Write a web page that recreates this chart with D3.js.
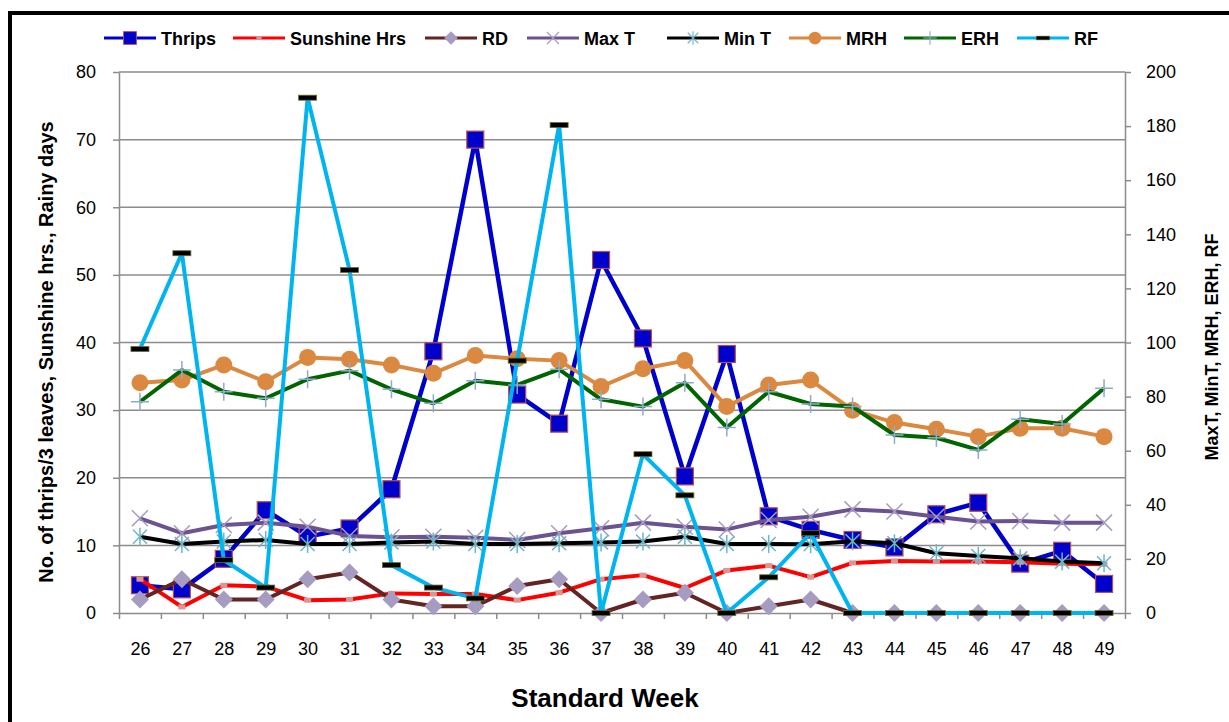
<!DOCTYPE html>
<html>
<head>
<meta charset="utf-8">
<script src="https://cdn.jsdelivr.net/npm/d3@7"></script>
<style>
  body { margin: 0; background: #fff; }
  svg { display: block; font-family: "Liberation Sans", Arial, sans-serif; }
</style>
</head>
<body>
<div id="chart"></div>
<script>
// standard weeks on the x axis
var weeks = [26, 27, 28, 29, 30, 31, 32, 33, 34, 35, 36, 37, 38, 39, 40, 41, 42, 43, 44, 45, 46, 47, 48, 49]

// left axis series
var thrips = [4.1, 3.5, 8, 15.2, 11.3, 12.5, 18.3, 38.7, 70, 32.3, 28, 52.2, 40.6, 20.2, 38.3, 14.3, 12.3, 10.8, 9.7, 14.6, 16.3, 7.3, 9.2, 4.3]
var sunshine = [5.0, 0.9, 4.1, 3.9, 1.9, 2.0, 2.9, 2.8, 2.8, 1.9, 3.0, 5.0, 5.6, 3.7, 6.3, 7.0, 5.3, 7.4, 7.7, 7.6, 7.6, 7.5, 7.3, 7.2]
var rd = [2, 5, 2, 2, 5, 6, 2, 1, 1, 4, 5, 0, 2, 3, 0, 1, 2, 0, 0, 0, 0, 0, 0, 0]

// right axis series
var maxT = [35.0, 29.5, 32.5, 33.4, 31.9, 28.5, 28.0, 28.2, 27.8, 27.0, 29.5, 31.3, 33.4, 31.9, 30.9, 34.4, 35.6, 38.3, 37.5, 35.6, 33.8, 34.0, 33.4, 33.4]
var minT = [28.2, 25.5, 26.4, 27.0, 25.5, 25.5, 26.1, 26.4, 25.5, 25.5, 25.8, 26.1, 26.4, 28.2, 25.5, 25.5, 25.4, 26.5, 25.8, 22.1, 21.1, 20.2, 19.0, 18.4]
var mrh = [85.1, 86.1, 91.7, 85.5, 94.5, 93.8, 91.7, 88.6, 95.2, 94.0, 93.3, 83.7, 90.3, 93.3, 76.3, 84.3, 86.1, 75.0, 70.4, 67.9, 65.2, 68.3, 68.3, 65.2]
var erh = [78.1, 89.8, 81.8, 79.4, 86.4, 89.6, 82.7, 77.5, 85.9, 84.3, 90.1, 79.0, 76.3, 85.1, 68.6, 81.8, 77.3, 76.3, 65.8, 64.8, 60.3, 71.6, 69.9, 83.1]
var rf = [97.6, 133.0, 19.6, 9.4, 190.5, 126.8, 17.7, 9.4, 5.4, 93.3, 180.4, 0, 58.7, 43.5, 0, 13.2, 29.5, 0, 0, 0, 0, 0, 0, 0]

var leftTicks = [0, 10, 20, 30, 40, 50, 60, 70, 80]
var rightTicks = [0, 20, 40, 60, 80, 100, 120, 140, 160, 180, 200]

var W = 1229, H = 722
var plot = { left: 119, right: 1125, top: 72, bottom: 613 }

var svg = d3.select('#chart').append('svg')
  .attr('width', W)
  .attr('height', H)

// outer frame, cut off at the right and bottom like the screenshot
svg.append('rect')
  .attr('x', 10).attr('y', 13)
  .attr('width', W + 20).attr('height', H + 20)
  .attr('fill', 'none')
  .attr('stroke', '#000')
  .attr('stroke-width', 4)

var x = d3.scalePoint().domain(weeks).range([plot.left, plot.right]).padding(0.5)
var xEdge = d3.scaleLinear().domain([0, weeks.length]).range([plot.left, plot.right])
var yL = d3.scaleLinear().domain([0, 80]).range([plot.bottom, plot.top])
var yR = d3.scaleLinear().domain([0, 200]).range([plot.bottom, plot.top])

var grey = '#8c8c8c'

// horizontal grid
svg.append('g')
  .selectAll('line')
  .data(leftTicks.slice(1))
  .enter().append('line')
    .attr('x1', plot.left).attr('x2', plot.right)
    .attr('y1', function(d) { return yL(d) })
    .attr('y2', function(d) { return yL(d) })
    .attr('stroke', grey)
    .attr('stroke-width', 1.5)

function styleAxis(g) {
  g.select('.domain').attr('stroke', grey).attr('stroke-width', 1.5)
  g.selectAll('.tick line').attr('stroke', grey).attr('stroke-width', 1.5)
  g.selectAll('.tick text').attr('fill', '#000')
}

var axL = svg.append('g')
  .attr('transform', 'translate(' + plot.left + ',0)')
  .call(d3.axisLeft(yL).tickValues(leftTicks).tickSize(6).tickPadding(17).tickSizeOuter(0))
axL.call(styleAxis)
axL.selectAll('.tick text').style('font-size', '18px')

var axR = svg.append('g')
  .attr('transform', 'translate(' + plot.right + ',0)')
  .call(d3.axisRight(yR).tickValues(rightTicks).tickSize(6).tickPadding(15).tickSizeOuter(0))
axR.call(styleAxis)
axR.selectAll('.tick text').style('font-size', '18px')

// x axis: ticks at category edges, labels at centres
var axE = svg.append('g')
  .attr('transform', 'translate(0,' + plot.bottom + ')')
  .call(d3.axisBottom(xEdge).ticks(weeks.length).tickSize(6).tickFormat('').tickSizeOuter(0))
axE.call(styleAxis)

var axX = svg.append('g')
  .attr('transform', 'translate(0,' + plot.bottom + ')')
  .call(d3.axisBottom(x).tickSize(0).tickPadding(29))
axX.select('.domain').remove()
axX.selectAll('.tick text').attr('fill', '#000').style('font-size', '18px')

// titles
svg.append('text')
  .attr('x', 605).attr('y', 707)
  .attr('text-anchor', 'middle')
  .style('font-size', '26px').style('font-weight', 'bold')
  .text('Standard Week')

svg.append('text')
  .attr('transform', 'translate(53,352) rotate(-90)')
  .attr('text-anchor', 'middle')
  .style('font-size', '20px').style('font-weight', 'bold')
  .text('No. of thrips/3 leaves, Sunshine hrs., Rainy days')

svg.append('text')
  .attr('transform', 'translate(1218,347) rotate(-90)')
  .attr('text-anchor', 'middle')
  .style('font-size', '18px').style('font-weight', 'bold')
  .text('MaxT, MinT, MRH, ERH, RF')

// marker painters, drawn centred on 0,0
var markers = {
  square: function(g) {
    g.append('rect').attr('x', -8.5).attr('y', -8.5).attr('width', 17).attr('height', 17)
      .attr('fill', '#0000CC').attr('stroke', '#B4504B').attr('stroke-width', 1.2)
  },
  smallSquare: function(g) {
    g.append('rect').attr('x', -3.5).attr('y', -2.5).attr('width', 7).attr('height', 5)
      .attr('fill', '#D99694')
  },
  diamond: function(g) {
    g.append('path').attr('d', 'M0,-9L9,0L0,9L-9,0Z').attr('fill', '#A69BC0')
  },
  cross: function(g) {
    g.append('path').attr('d', 'M-8,-8L8,8M-8,8L8,-8').attr('stroke', '#A69BC0').attr('stroke-width', 1.5)
  },
  star: function(g) {
    g.append('path').attr('d', 'M-7,-7L7,7M-7,7L7,-7M0,-9L0,9')
      .attr('stroke', '#6BB6C8').attr('stroke-width', 1.5)
  },
  circle: function(g) {
    g.append('circle').attr('r', 8.5).attr('fill', '#DB8840')
  },
  plus: function(g) {
    g.append('path').attr('d', 'M-9,0L9,0M0,-9L0,9').attr('stroke', '#8FAAD0').attr('stroke-width', 1.5)
  },
  dash: function(g) {
    g.append('rect').attr('x', -9).attr('y', -2.5).attr('width', 18).attr('height', 5)
      .attr('fill', '#000').attr('stroke', '#6E6A2A').attr('stroke-width', 0.8)
  }
}

var series = [
  { name: 'Thrips', values: thrips, y: yL, color: '#0000CC', width: 4.5, marker: 'square', lx: 104 },
  { name: 'Sunshine Hrs', values: sunshine, y: yL, color: '#FF0000', width: 4, marker: 'smallSquare', lx: 233 },
  { name: 'RD', values: rd, y: yL, color: '#632523', width: 4, marker: 'diamond', lx: 425 },
  { name: 'Max T', values: maxT, y: yR, color: '#6A5390', width: 4, marker: 'cross', lx: 527 },
  { name: 'Min T', values: minT, y: yR, color: '#000000', width: 4, marker: 'star', lx: 667 },
  { name: 'MRH', values: mrh, y: yR, color: '#DB8840', width: 4, marker: 'circle', lx: 789 },
  { name: 'ERH', values: erh, y: yR, color: '#006400', width: 4, marker: 'plus', lx: 904 },
  { name: 'RF', values: rf, y: yR, color: '#00B4F0', width: 4, marker: 'dash', lx: 1017 }
]

series.forEach(function(s) {
  var line = d3.line()
    .x(function(d, i) { return x(weeks[i]) })
    .y(function(d) { return s.y(d) })
  var g = svg.append('g').attr('class', 'series')
  g.append('path')
    .datum(s.values)
    .attr('d', line)
    .attr('fill', 'none')
    .attr('stroke', s.color)
    .attr('stroke-width', s.width)
    .attr('stroke-linejoin', 'round')
  g.selectAll('.pt')
    .data(s.values)
    .enter().append('g')
      .attr('class', 'pt')
      .attr('transform', function(d, i) { return 'translate(' + x(weeks[i]) + ',' + s.y(d) + ')' })
      .each(function() { markers[s.marker](d3.select(this)) })
})

// legend along the top
var legend = svg.append('g').attr('transform', 'translate(0,38)')
series.forEach(function(s) {
  var item = legend.append('g').attr('transform', 'translate(' + s.lx + ',0)')
  item.append('line').attr('x1', 0).attr('x2', 52).attr('y1', 0).attr('y2', 0)
    .attr('stroke', s.color).attr('stroke-width', 3)
  var m = item.append('g').attr('transform', 'translate(26,0) scale(0.75)')
  markers[s.marker](m)
  item.append('text').attr('x', 57).attr('y', 6.5)
    .style('font-size', '18px').style('font-weight', 'bold')
    .text(s.name)
})
</script>
</body>
</html>
